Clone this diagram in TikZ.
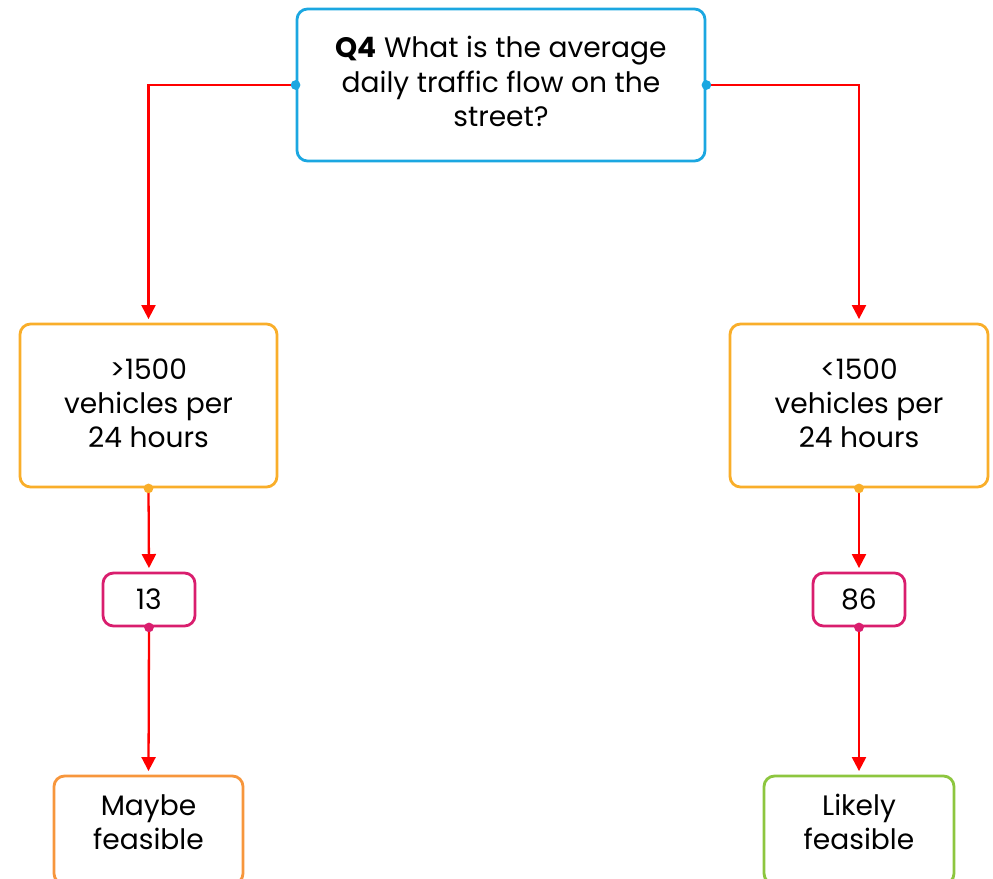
\documentclass[tikz,border=0pt]{standalone}
\usepackage{fontspec}
\setmainfont{Poppins}
\usetikzlibrary{arrows.meta, positioning}
\definecolor{q_cyan}{RGB}{27,167,225}
\definecolor{a_orange}{RGB}{249,174,42}
\definecolor{n_pink}{RGB}{217,30,110}
\definecolor{r_orange}{RGB}{247,150,60}
\definecolor{r_green}{RGB}{141,198,63}
\tikzset{
    box/.style={draw, rounded corners=6pt, line width=1.6pt, align=center, inner sep=0pt,
        font=\fontsize{16}{19.4}\selectfont},
    flow/.style={red, line width=1.3pt, shorten >=2pt, -{Triangle[width=8pt, length=8pt]}},
    pin/.style={circle, fill, inner sep=0pt, minimum size=5.5pt}
}

\begin{document}
\begin{tikzpicture}
    \clip (0,0) rectangle (19.86,-17.58);
    \useasboundingbox (0,0) rectangle (19.86,-17.58);

    \node[box, q_cyan, text=black, minimum width=8.16cm, minimum height=3.04cm] (q) at (10.02,-1.7)
        {\textbf{Q4} What is the average\\daily traffic flow on the\\street?\vphantom{y}};

    \node[box, a_orange, text=black, minimum width=5.14cm, minimum height=3.26cm] (gt) at (2.97,-8.11)
        {>1500\\vehicles per\\24 hours\rule[-3pt]{0pt}{0pt}};
    \node[box, a_orange, text=black, minimum width=5.16cm, minimum height=3.26cm] (lt) at (17.18,-8.11)
        {<1500\\vehicles per\\24 hours\rule[-3pt]{0pt}{0pt}};

    \node[box, n_pink, text=black, minimum width=1.84cm, minimum height=1.06cm] (n13) at (2.98,-11.99) {13};
    \node[box, n_pink, text=black, minimum width=1.84cm, minimum height=1.06cm] (n86) at (17.18,-11.99) {86};

    \node[box, r_orange, text=black, minimum width=3.78cm, minimum height=2.16cm] (maybe) at (2.97,-16.6)
        {Maybe\\feasible\rule[-9pt]{0pt}{0pt}};
    \node[box, r_green, text=black, minimum width=3.8cm, minimum height=2.16cm] (likely) at (17.18,-16.6)
        {Likely\\feasible\rule[-9pt]{0pt}{0pt}};

    % connectors
    \draw[flow] (q.west) -| (gt.north);
    \draw[flow] (q.east) -| (lt.north);
    \draw[flow] (gt.south) -- (n13.north);
    \draw[flow] (lt.south) -- (n86.north);
    \draw[flow] (n13.south) -- (maybe.north);
    \draw[flow] (n86.south) -- (likely.north);

    % dots
    \node[pin, q_cyan] (qw) at (q.west) {};
    \node[pin, q_cyan] (qe) at (q.east) {};
    \node[pin, a_orange] (gts) at (gt.south) {};
    \node[pin, a_orange] (lts) at (lt.south) {};
    \node[pin, n_pink] (n13s) at (n13.south) {};
    \node[pin, n_pink] (n86s) at (n86.south) {};
\end{tikzpicture}
\end{document}
